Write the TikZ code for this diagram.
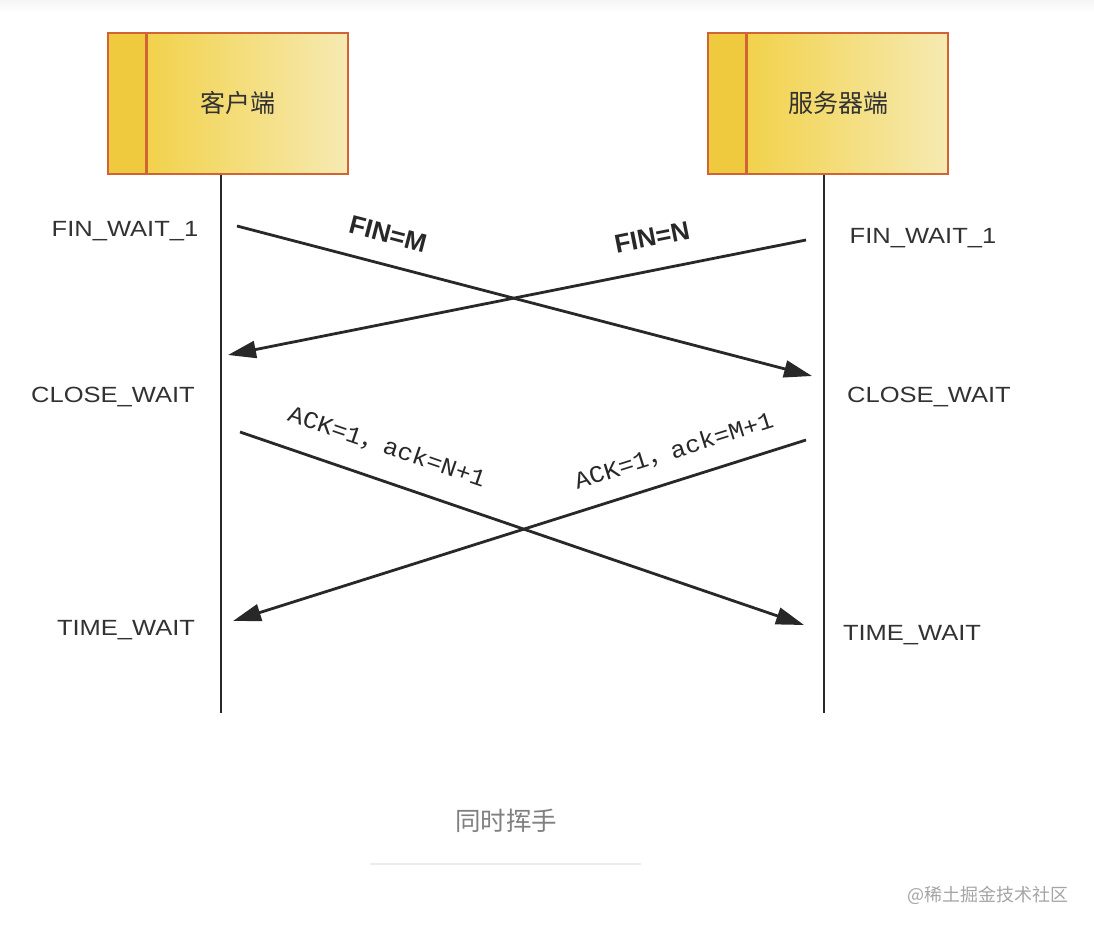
\documentclass[tikz,border=0pt]{standalone}
\usepackage{fontspec}
\setmainfont{Liberation Sans}
\newfontfamily\cjk{Noto Sans CJK SC}
\newfontfamily\widesans[FakeStretch=1.16]{Liberation Sans}
\newfontfamily\monof[FakeStretch=1.06]{Liberation Mono}
\usetikzlibrary{arrows.meta}
\definecolor{boxborder}{RGB}{208,100,52}
\definecolor{goldA}{RGB}{240,202,62}
\definecolor{goldB}{RGB}{242,210,76}
\definecolor{goldC}{RGB}{246,234,178}
\definecolor{ink}{RGB}{40,40,40}
\definecolor{lbl}{RGB}{50,50,50}
\definecolor{captiongray}{RGB}{128,128,128}
\definecolor{markgray}{RGB}{165,165,165}
\definecolor{rulegray}{RGB}{236,236,236}
\tikzset{
  box/.style={draw=boxborder, line width=2.8pt, minimum width=240pt, minimum height=141pt, inner sep=0pt},
  boxtext/.style={font=\cjk\fontsize{25}{29}\selectfont, text=lbl, inner sep=0pt},
  state/.style={font=\widesans\fontsize{22}{26}\selectfont, text=lbl, inner sep=0pt},
  life/.style={draw=ink, line width=2.3pt},
  msg/.style={draw=ink, line width=2.8pt, -{Triangle[length=28pt,width=17pt]}},
  finlbl/.style={font=\bfseries\fontsize{26}{30}\selectfont, text=ink, inner sep=0pt},
  acklbl/.style={font=\monof\fontsize{24}{28}\selectfont, text=ink, inner sep=0pt},
  captionsty/.style={font=\cjk\fontsize{25.5}{30}\selectfont, text=captiongray, inner sep=0pt},
  marksty/.style={font=\cjk\fontsize{18}{22}\selectfont, text=markgray, inner sep=0pt}
}
\begin{document}
\begin{tikzpicture}[x=1pt,y=-1pt]
\useasboundingbox (0,0) rectangle (1094,932);
\fill[white] (0,0) rectangle (1094,932);
\shade[top color=black!4, bottom color=white] (0,0) rectangle (1094,12);

% box fills
\fill[goldA] (108,33) rectangle (148,174);
\shade[left color=goldB, right color=goldC] (148,33) rectangle (348,174);
\fill[goldA] (708,33) rectangle (748,174);
\shade[left color=goldB, right color=goldC] (748,33) rectangle (948,174);

% boxes
\node[box] (client) at (228,103.5) {};
\node[box] (server) at (828,103.5) {};
\draw[boxborder, line width=2.8pt] (client.north west) ++(40,0) -- ++(0,141);
\draw[boxborder, line width=2.8pt] (server.north west) ++(40,0) -- ++(0,141);
\node[boxtext] (clientname) at (237.5,103) {客户端};
\node[boxtext] (servername) at (838,103) {服务器端};

% lifelines
\coordinate (cend) at (221,713);
\coordinate (send) at (824,713);
\draw[life] (cend |- client.south) -- (cend);
\draw[life] (send |- server.south) -- (send);

% state labels
\node[state] (c1) at (125,231) {FIN\_WAIT\_1};
\node[state] (c2) at (113,397) {CLOSE\_WAIT};
\node[state] (c3) at (126,630) {TIME\_WAIT};
\node[state] (s1) at (923,238) {FIN\_WAIT\_1};
\node[state] (s2) at (929,397) {CLOSE\_WAIT};
\node[state] (s3) at (912,635) {TIME\_WAIT};

% message endpoints
\coordinate (m1s) at (237,226);
\coordinate (m1e) at (812,376);
\coordinate (m2s) at (806,240);
\coordinate (m2e) at (228,355);
\coordinate (m3s) at (240,432);
\coordinate (m3e) at (804,625);
\coordinate (m4s) at (806,440);
\coordinate (m4e) at (233,621);

\draw[msg] (m1s) -- (m1e);
\draw[msg] (m2s) -- (m2e);
\draw[msg] (m3s) -- (m3e);
\draw[msg] (m4s) -- (m4e);

\node[finlbl, rotate=-14.6] (l1) at (388,234) {FIN=M};
\node[finlbl, rotate=11.2] (l2) at (652,237) {FIN=N};
\node[acklbl, rotate=-19] (l3) at (387,447) {ACK=1{\cjk ，}ack=N+1};
\node[acklbl, rotate=17.5] (l4) at (674,451) {ACK=1{\cjk ，}ack=M+1};

% caption
\node[captionsty] (cap) at (506,821) {同时挥手};
\draw[rulegray, line width=1.2pt] (370,864) -- (641,864);
\node[marksty] (mark) at (988,895) {@稀土掘金技术社区};
\end{tikzpicture}
\end{document}
